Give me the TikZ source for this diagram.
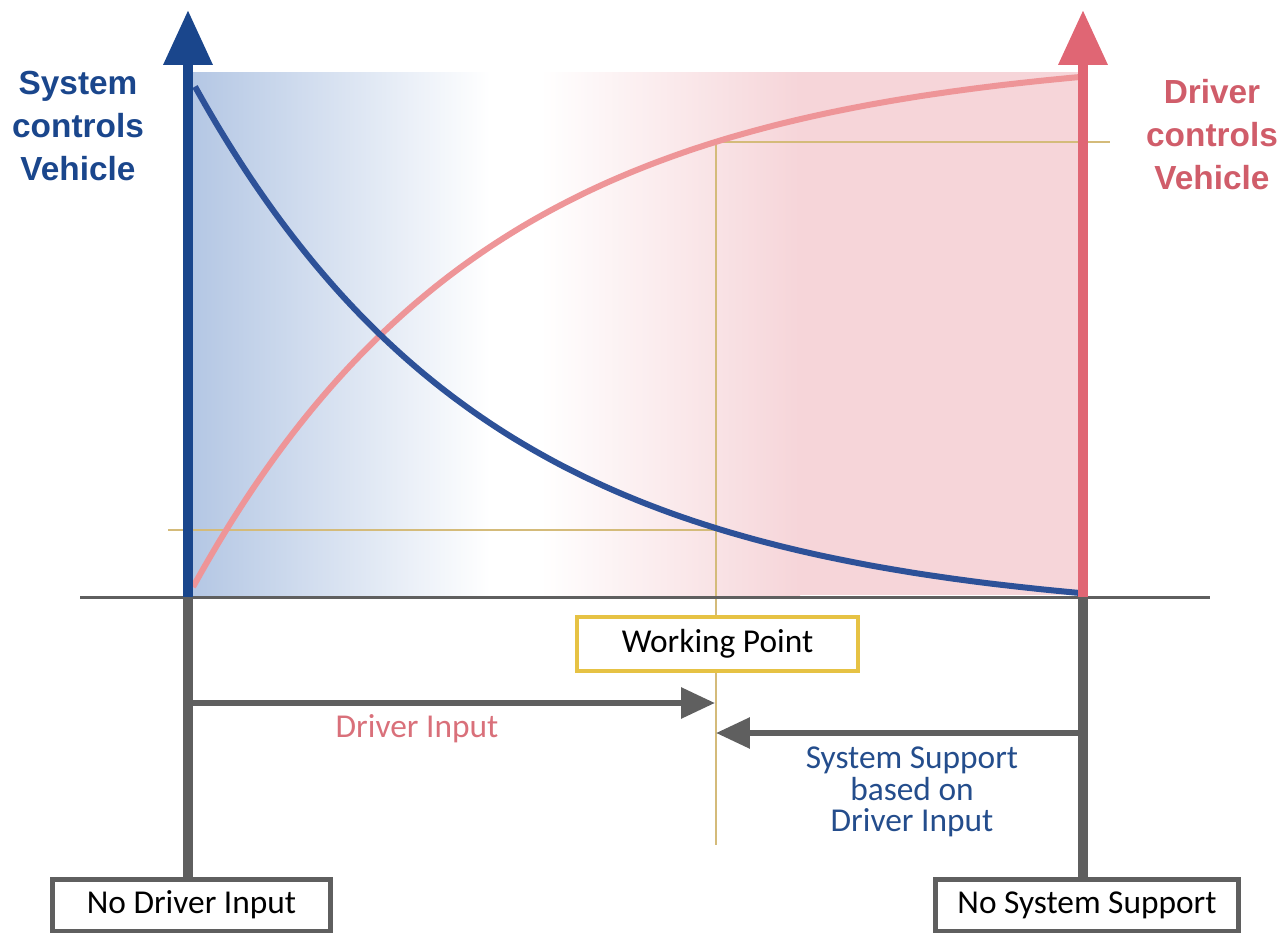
\documentclass[tikz,border=0pt]{standalone}
\usepackage{fontspec}
\setmainfont{Carlito}
\newfontfamily\labelfont{Liberation Sans}
\usetikzlibrary{arrows.meta, positioning}

\definecolor{sysblue}{RGB}{26,70,140}
\definecolor{curveblue}{RGB}{45,81,152}
\definecolor{drvred}{RGB}{224,102,116}
\definecolor{curvepink}{RGB}{238,149,152}
\definecolor{redtext}{RGB}{208,93,106}
\definecolor{pinktext}{RGB}{217,112,122}
\definecolor{bluetext}{RGB}{36,77,140}
\definecolor{tan}{RGB}{212,187,122}
\definecolor{wpyellow}{RGB}{230,194,68}
\definecolor{axisgrey}{RGB}{95,95,95}
\definecolor{shadeblue}{RGB}{180,199,228}
\definecolor{shadepink}{RGB}{246,213,217}

\tikzset{
  sideaxis/.style={line width=0.2cm, -{Triangle[width=0.94cm, length=1.1cm]}},
  greyline/.style={axisgrey, line width=0.19cm},
  greyarrow/.style={axisgrey, line width=0.12cm, -{Triangle[width=0.6cm, length=0.68cm]}},
  tanline/.style={tan, line width=0.05cm},
  curve/.style={line width=0.12cm},
  endbox/.style={draw=axisgrey, line width=0.1cm, fill=white, minimum height=1.04cm, inner sep=0pt, font=\fontsize{19}{19}\selectfont},
  wpbox/.style={draw=wpyellow, line width=0.08cm, fill=white, minimum width=5.62cm, minimum height=1.08cm, inner sep=0pt, font=\fontsize{19}{19}\selectfont},
  sidelabel/.style={align=center, font=\labelfont\bfseries\fontsize{19}{24.5}\selectfont},
  lowlabel/.style={align=center, font=\fontsize{19}{18}\selectfont}
}

\begin{document}
\begin{tikzpicture}[x=0.02cm, y=-0.02cm]
\useasboundingbox (0,0) rectangle (1279,933);

% background shading
\shade[left color=shadeblue, right color=white] (193,72) rectangle (490,595);
\shade[left color=white, right color=shadepink] (540,72) rectangle (800,595);
\fill[shadepink] (799,72) rectangle (1080,595);

\coordinate (sysbase) at (188,597);
\coordinate (systop) at (188,10);
\coordinate (drvbase) at (1083,597);
\coordinate (drvtop) at (1083,10);
\coordinate (axisleft) at (80,597);
\coordinate (axisright) at (1210,597);

% working point lines
\coordinate (wptop) at (716,142);
\coordinate (wpbottom) at (716,845);
\coordinate (wplow) at (716,530);
\coordinate (toplineend) at (1110,142);
\coordinate (lowlinestart) at (168,530);
\draw[tanline] (wptop) -- (wpbottom);
\draw[tanline] (wptop) -- (toplineend);
\draw[tanline] (lowlinestart) -- (wplow);

% curves
\draw[curve, curvepink] plot[domain=193:1080, samples=90, smooth] (\x, {77+510*(exp(-3*(\x-193)/887)-exp(-3))/(1-exp(-3))});
\draw[curve, curveblue] plot[domain=195:1080, samples=90, smooth] (\x, {593-510*(exp(-3*(\x-193)/887)-exp(-3))/(1-exp(-3))});

\draw[axisgrey, line width=0.06cm] (axisleft) -- (axisright);
\draw[sideaxis, sysblue] (sysbase) -- (systop);
\draw[sideaxis, drvred] (drvbase) -- (drvtop);

\node[sidelabel, sysblue] (syslabel) at (78,126) {System\\controls\\Vehicle};
\node[sidelabel, redtext] (drvlabel) at (1212,135) {Driver\\controls\\Vehicle};

% bottom part
\node[endbox, minimum width=5.56cm] (nodrv) at (191.5,905) {No Driver Input};
\node[endbox, minimum width=6.08cm] (nosys) at (1087,905) {No System Support};
\node[wpbox] (wp) at (717.5,644) {Working Point};

\draw[greyline] (sysbase) -- (sysbase |- nodrv.north);
\draw[greyline] (drvbase) -- (drvbase |- nosys.north);

\coordinate (inputstart) at (193,703);
\coordinate (inputend) at (715,703);
\coordinate (supportstart) at (1080,733);
\coordinate (supportend) at (716,733);
\draw[greyarrow] (inputstart) -- (inputend);
\draw[greyarrow] (supportstart) -- (supportend);

\node[lowlabel, pinktext] (inputlabel) at (417,729) {Driver Input};
\node[lowlabel, bluetext] (supportlabel) at (912,792) {System Support\\based on\\Driver Input};

\end{tikzpicture}
\end{document}
